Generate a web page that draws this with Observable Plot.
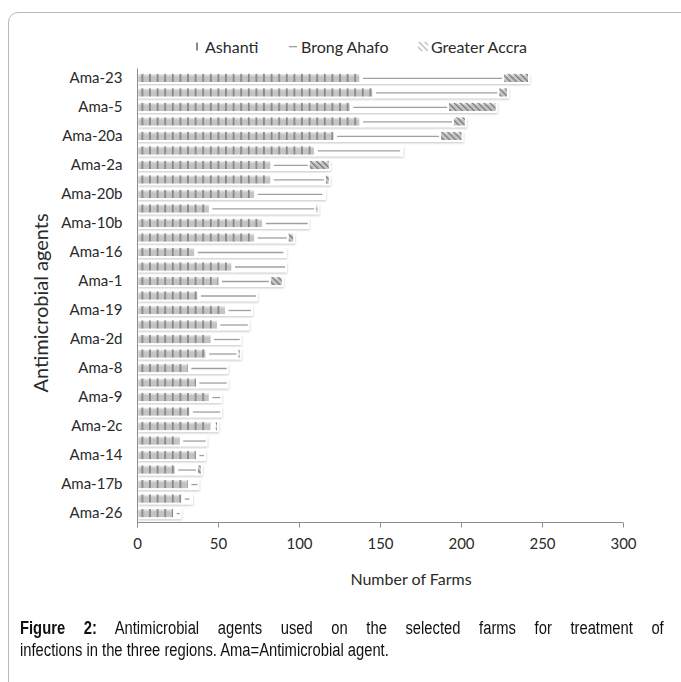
<!DOCTYPE html>
<html><head><meta charset="utf-8">
<script src="https://cdn.jsdelivr.net/npm/d3@7"></script>
<script src="https://cdn.jsdelivr.net/npm/@observablehq/plot@0.6"></script>
<style>
body{margin:0;background:#fff;width:681px;height:682px;overflow:hidden;position:relative;font-family:Lato,"Open Sans",sans-serif;color:#2a2a2a}
#box{position:absolute;left:8px;top:12px;width:720px;height:720px;border:1px solid #b8b8b8;border-radius:10px 0 0 0}
#chart{position:absolute;left:0;top:0}
.leg{position:absolute;top:37px;font-size:16px;line-height:20px;white-space:nowrap}
.leg svg{position:absolute;left:-13px;top:5px}
#ylab{position:absolute;left:40px;top:303px;transform:translate(-50%,-50%) rotate(-90deg);font-size:20px;white-space:nowrap}
#xlab{position:absolute;left:411px;top:578px;transform:translate(-50%,-50%);font-size:16px;white-space:nowrap}
.cap{position:absolute;left:20px;font-family:"Liberation Sans",Arial,sans-serif;font-size:18px;line-height:22px;color:#111;transform:scaleX(0.82);transform-origin:0 0;white-space:nowrap}
#cap1{top:617px;width:785px;text-align:justify;text-align-last:justify}
#cap2{top:639px}
.cap b{font-weight:bold}
</style></head><body>
<svg width="0" height="0" style="position:absolute"><defs>
<pattern id="pA" patternUnits="userSpaceOnUse" x="141.5" y="0" width="7.6" height="4"><rect x="0" y="0" width="1.7" height="4" fill="#858585"/></pattern>
<pattern id="pG" patternUnits="userSpaceOnUse" width="4.2" height="4.2" patternTransform="rotate(-45)"><rect x="0" y="0" width="1.3" height="4.2" fill="#7a7a7a"/></pattern>
</defs></svg>
<div id="box"></div>
<div id="chart"></div>
<div class="leg" style="left:205px"><svg width="10" height="10"><rect x="4" y="0.5" width="2" height="8" fill="#8a8a8a"/></svg>Ashanti</div>
<div class="leg" style="left:301px"><svg width="10" height="10"><rect x="1" y="4" width="8" height="1.3" fill="#a0a0a0"/></svg>Brong Ahafo</div>
<div class="leg" style="left:431px"><svg width="11" height="10"><rect x="0" y="0" width="10" height="9" fill="url(#pG)" opacity="0.55"/></svg>Greater Accra</div>
<div id="ylab">Antimicrobial agents</div>
<div id="xlab">Number of Farms</div>
<div class="cap" id="cap1"><b>Figure 2:</b> Antimicrobial agents used on the selected farms for treatment of</div>
<div class="cap" id="cap2">infections in the three regions. Ama=Antimicrobial agent.</div>
<script>
const agents = ["Ama-23","Ama-22","Ama-5","Ama-6","Ama-20a","Ama-21","Ama-2a","Ama-3","Ama-20b","Ama-2b","Ama-10b","Ama-10a","Ama-16","Ama-12","Ama-1","Ama-4","Ama-19","Ama-13","Ama-2d","Ama-7","Ama-8","Ama-11","Ama-9","Ama-18","Ama-2c","Ama-17a","Ama-14","Ama-24","Ama-17b","Ama-15","Ama-26"];
const labeledAgents = ["Ama-23","Ama-5","Ama-20a","Ama-2a","Ama-20b","Ama-10b","Ama-16","Ama-1","Ama-19","Ama-2d","Ama-8","Ama-9","Ama-2c","Ama-14","Ama-17b","Ama-26"];
const ashanti      = [138,146,132,138,122,110,83,83,73,45,78,73,36,59,51,38,55,50,46,43,32,37,45,33,46,27,37,24,32,28,23];
const brongAhafo   = [88,77,60,57,65,53,23,33,42,65,28,20,55,33,31,36,16,19,18,19,24,19,7,19,2,16,5,13,6,5,4];
const greaterAccra = [16,6,30,8,14,1,13,3,1,2,0,4,1,0,8,0,0,0,0,2,0,0,0,0,2,0,0,3,0,1,0];
const xTicks = [0,50,100,150,200,250,300];

const rows = agents.map((agent, i) => ({
  agent,
  a: ashanti[i],
  ab: ashanti[i] + brongAhafo[i],
  total: ashanti[i] + brongAhafo[i] + greaterAccra[i]
}));

const plot = Plot.plot({
  width: 681, height: 600,
  marginLeft: 137, marginRight: 58, marginTop: 68.5, marginBottom: 77.5,
  style: {fontFamily: "Lato, sans-serif", fontSize: "15px", color: "#2a2a2a", background: "transparent"},
  x: {domain: [0, 300]},
  y: {domain: agents, padding: 0.3, round: false},
  marks: [
    Plot.barX(rows, {y: "agent", x1: () => 0, x2: "total", fill: "#c4c4c4", dx: 1, dy: 2}),
    Plot.barX(rows, {y: "agent", x1: () => 0, x2: "a", fill: "url(#pA)", stroke: "#fff", strokeWidth: 2}),
    Plot.barX(rows, {y: "agent", x1: "a", x2: "ab", fill: "#fff", stroke: "#fff", strokeWidth: 2}),
    Plot.barX(rows, {y: "agent", x1: "ab", x2: "total", fill: "url(#pG)", stroke: "#fff", strokeWidth: 2}),
    Plot.ruleY(rows.filter(d => d.ab > d.a + 1), {y: "agent", x1: d => d.a + 1.5, x2: d => d.ab - 0.6, stroke: "#a0a0a0", strokeWidth: 1.3}),
    Plot.ruleX([0], {stroke: "#8c8c8c"}),
    Plot.axisX({ticks: xTicks, tickSize: 5, tickPadding: 10.5, stroke: "#8c8c8c", label: null}),
    Plot.axisY({ticks: labeledAgents, tickSize: 0, tickPadding: 15, label: null})
  ]
});
document.getElementById("chart").appendChild(plot);

// shadow softening and bottom axis line from the plot's own scales
const svg = d3.select(plot);
svg.select('g[aria-label="bar"]').style("filter", "blur(0.8px)");
const xs = plot.scale("x"), ys = plot.scale("y");
svg.append("line")
  .attr("x1", xs.apply(0)).attr("x2", xs.apply(300))
  .attr("y1", ys.range[1]).attr("y2", ys.range[1])
  .attr("stroke", "#8c8c8c");
</script>
</body></html>
